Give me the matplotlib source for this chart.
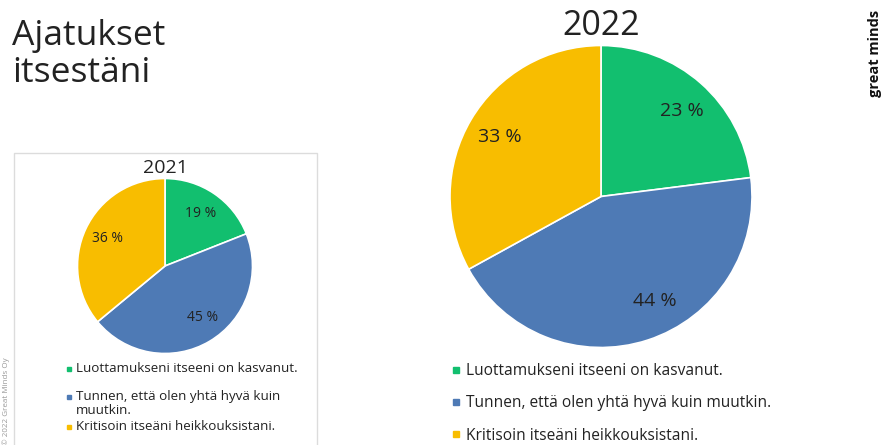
import matplotlib
matplotlib.use("Agg")
import numpy as np
import matplotlib.pyplot as plt
from matplotlib.lines import Line2D
from matplotlib.patches import Rectangle

# Data
categories = [
    "Luottamukseni itseeni on kasvanut.",
    "Tunnen, että olen yhtä hyvä kuin muutkin.",
    "Kritisoin itseäni heikkouksistani.",
]
categories_2021 = [
    "Luottamukseni itseeni on kasvanut.",
    "Tunnen, että olen yhtä hyvä kuin\nmuutkin.",
    "Kritisoin itseäni heikkouksistani.",
]
values_2021 = [19, 45, 36]
values_2022 = [23, 44, 33]
colors = ["#12bf6f", "#4e7ab5", "#f8bd00"]

W, H = 884, 445
fig = plt.figure(figsize=(W / 100, H / 100), dpi=100)
fig.patch.set_facecolor("white")
TXT = "#222222"
FONT = ["Open Sans", "DejaVu Sans"]


def fx(x):
    return x / W


def fy(y):
    return 1 - y / H


def pie_axes(cx, cy, r):
    return fig.add_axes([fx(cx - r), fy(cy + r), r / W * 2, r / H * 2])


def draw_pie(ax, values, fontsize, pctdist, label_turn):
    _, _, autotexts = ax.pie(
        values, colors=colors, startangle=90, counterclock=False,
        wedgeprops=dict(edgecolor="white", linewidth=1.2),
        autopct=lambda p: f"{p:.0f} %", pctdistance=pctdist,
        textprops=dict(fontsize=fontsize, color=TXT, family=FONT))
    # nudge percentage labels around the centre by a few degrees
    for t, turn in zip(autotexts, label_turn):
        x, y = t.get_position()
        a = np.deg2rad(turn)
        t.set_position((x * np.cos(a) - y * np.sin(a), x * np.sin(a) + y * np.cos(a)))
    ax.set_xlim(-1, 1)
    ax.set_ylim(-1, 1)
    ax.set_aspect("equal")
    ax.axis("off")


# Frame around the 2021 panel
fig.patches.append(Rectangle((fx(14), fy(460)), fx(317) - fx(14), fy(153) - fy(460),
                             transform=fig.transFigure, fill=False,
                             edgecolor="#dcdcdc", linewidth=1.0))

# Main heading
fig.text(fx(12), fy(19), "Ajatukset\nitsestäni", ha="left", va="top",
         fontsize=25.5, color=TXT, family=FONT, linespacing=1.1)

# 2021 pie
ax1 = pie_axes(165, 266, 87.5)
draw_pie(ax1, values_2021, 10, 0.73, [0, 5, 0])
fig.text(fx(165), fy(168), "2021", ha="center", va="center", fontsize=14,
         color=TXT, family=FONT)

# 2022 pie
ax2 = pie_axes(601, 196.5, 151)
draw_pie(ax2, values_2022, 14, 0.78, [-2, 9, 0])
fig.text(fx(601), fy(26), "2022", ha="center", va="center", fontsize=24.5,
         color=TXT, family=FONT)


def handles(ms):
    return [Line2D([], [], marker="s", linestyle="none", markersize=ms,
                   markerfacecolor=c, markeredgecolor=c) for c in colors]


# 2021 legend, entries placed row by row
rows_2021 = [369, 403.5, 427]
for c, label, y in zip(colors, categories_2021, rows_2021):
    first_line_y = y - (6.5 if "\n" in label else 0)
    fig.lines.append(Line2D([fx(69)], [fy(first_line_y)], marker="s", markersize=3.5,
                            color=c, transform=fig.transFigure))
    fig.text(fx(76), fy(y), label, ha="left", va="center", fontsize=9.6,
             color=TXT, family=FONT, linespacing=1.1)

# 2022 legend
fig.legend(handles(4), categories, loc="upper left",
           bbox_to_anchor=(fx(451), fy(363)), frameon=False,
           handlelength=0.6, handletextpad=0.35, labelspacing=1.05,
           prop=dict(family=FONT, size=11.2), labelcolor=TXT,
           borderaxespad=0, borderpad=0)

# Side marks
fig.text(fx(875), fy(53), "great minds", rotation=90, ha="center", va="center",
         fontsize=10.5, fontweight="bold", color="#111111", family=FONT)
fig.text(fx(6), fy(401), "© 2022 Great Minds Oy", rotation=90, ha="center",
         va="center", fontsize=5.8, color="#9a9a9a", family=FONT)

fig.savefig("out.png", dpi=100, facecolor="white")
